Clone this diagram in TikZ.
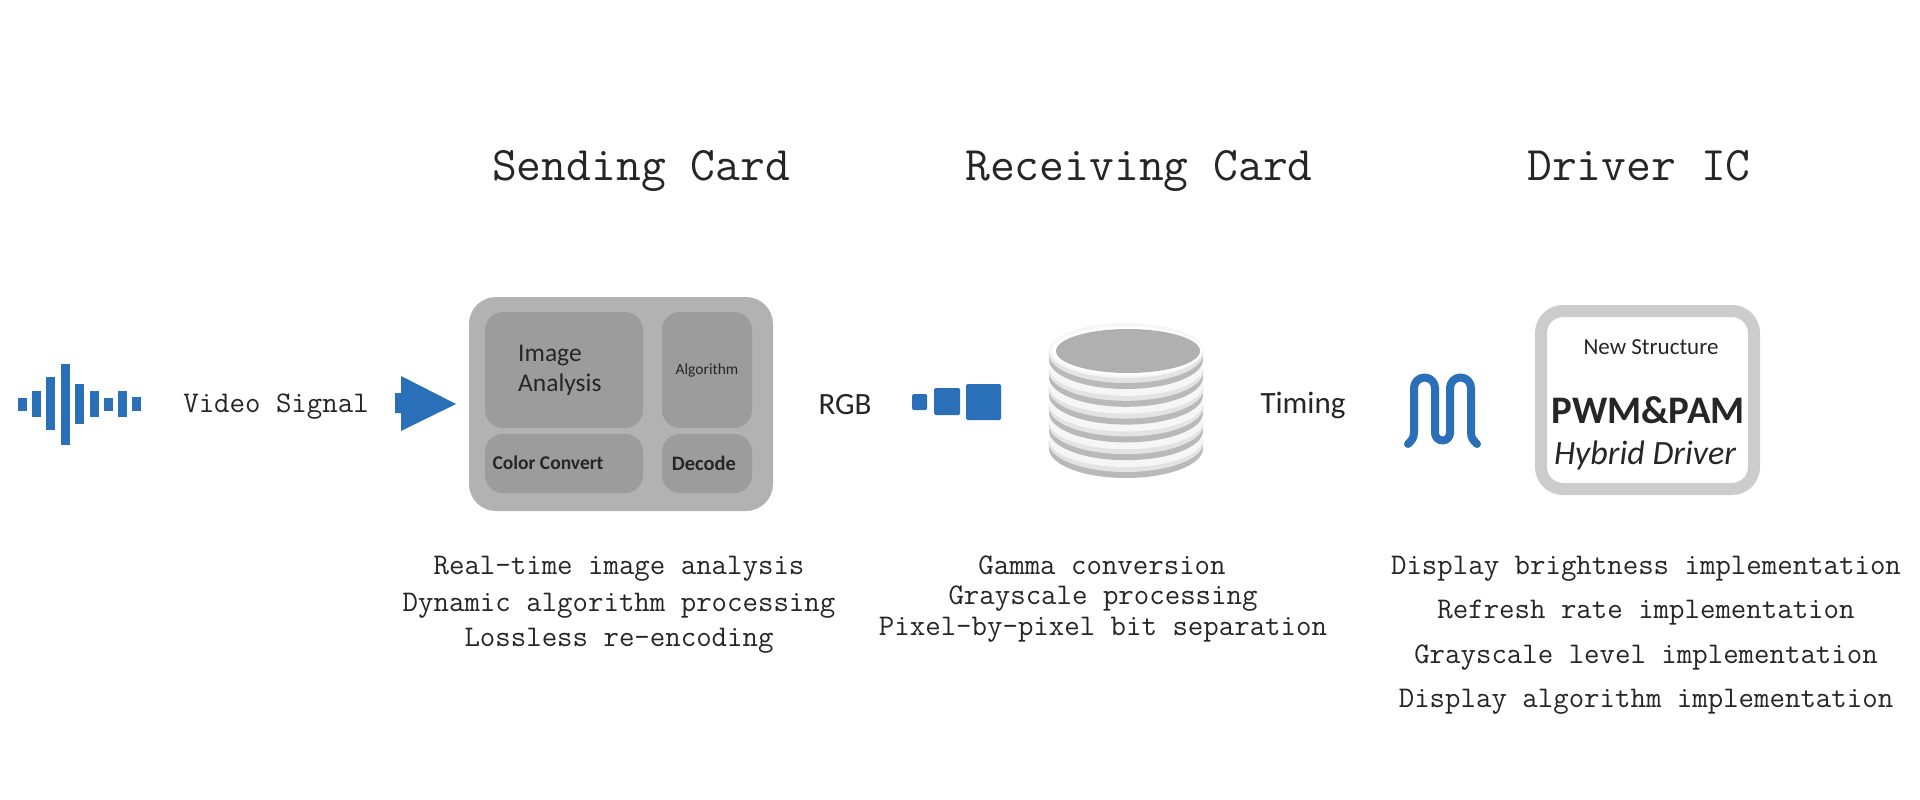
\documentclass[tikz,border=0pt]{standalone}
\usepackage{fontspec}
\setsansfont{Carlito}
\definecolor{bluec}{HTML}{2A70B8}
\definecolor{outerg}{HTML}{B2B2B2}
\definecolor{innerg}{HTML}{9C9C9C}
\definecolor{ringg}{HTML}{CCCCCC}
\definecolor{inkc}{HTML}{262626}
\newcommand{\fs}[1]{\fontsize{#1}{#1}\selectfont}
\tikzset{
  x=1pt,y=-1pt,
  title/.style={font=\ttfamily\fs{48.2},text=inkc,inner sep=0pt,anchor=center,text height=29pt,text depth=0pt},
  body/.style={font=\ttfamily\fs{30},text=inkc,inner sep=0pt,anchor=center,text height=18pt,text depth=0pt},
  lab/.style={text=inkc,inner sep=0pt,anchor=center},
  bluebox/.style={fill=bluec,draw=none,rounded corners=1.5pt},
  cell/.style={fill=innerg,draw=none,rounded corners=18pt},
}
\begin{document}
\begin{tikzpicture}
\useasboundingbox (0,0) rectangle (1920,800);
\fill[white] (0,0) rectangle (1920,800);
% titles
\node[title] (t1) at (641,166) {Sending Card};
\node[title] (t2) at (1139,166) {Receiving Card};
\node[title] (t3) at (1639,166) {Driver IC};
% waveform
\foreach \a/\b/\c/\d in {17.5/398/27/411, 32/391/41/417, 46/377/55/430, 61/364/70/445, 75/384/84/424, 90/391/99/417, 104/398/113/411, 118/391/127/417, 132/397/141/411}
  \fill[bluec] (\a,\b) rectangle (\c,\d);
\node[body] (video) at (276,403) {Video Signal};
% arrow
\fill[bluec] (395,393) -- (401,393) -- (401,376) -- (456,404) -- (401,431) -- (401,413) -- (395,413) -- cycle;
% sending card
\fill[outerg,rounded corners=27pt] (469,297) rectangle (773,511);
\fill[cell] (485,312) rectangle (643,428);
\fill[cell] (662,312) rectangle (752,428);
\fill[cell] (485,434) rectangle (643,493);
\fill[cell] (662,434) rectangle (752,493);
\node[lab,anchor=base west,font=\sffamily\fs{25.5}] (img) at (518,361) {Image};
\node[lab,anchor=base west,font=\sffamily\fs{25.5}] (ana) at (518,391) {Analysis};
\node[lab,font=\sffamily\fs{15.5}] (alg) at (707,370) {Algorithm};
\node[lab,font=\sffamily\bfseries\fs{19.5}] (col) at (548,463) {Color Convert};
\node[lab,font=\sffamily\bfseries\fs{20.5}] (dec) at (704,463) {Decode};
\node[lab,font=\sffamily\fs{31}] (rgb) at (845,405) {RGB};
% squares
\fill[bluebox] (912,394) rectangle (927,410);
\fill[bluebox] (934,388) rectangle (960,415);
\fill[bluebox] (966,384) rectangle (1001,420);
% stack
\foreach \cy in {442.5,424.7,406.9,389.1,371.3,353.5}{
  \fill[gray!55] (1126,\cy+6) ellipse[x radius=77,y radius=29.5];
  \fill[gray!22] (1126,\cy) ellipse[x radius=77.5,y radius=29.5];
  \fill[gray!7] (1126,\cy-3) ellipse[x radius=77,y radius=27.5];
}
\fill[white] (1127,351) ellipse[x radius=75,y radius=24.5];
\fill[gray!62] (1128,351) ellipse[x radius=72,y radius=22];
\node[lab,font=\sffamily\fs{31}] (timing) at (1303,405) {Timing};
% squiggle
\draw[bluec,line width=8pt,line cap=round,line join=round]
  (1408,444) .. controls (1412,440) and (1414,438) .. (1414,432)
  -- (1414,388) arc[start angle=180,end angle=360,x radius=10.5,y radius=10.5]
  -- (1435,433) arc[start angle=180,end angle=360,x radius=7.5,y radius=-7.5]
  -- (1450,388) arc[start angle=180,end angle=360,x radius=10.5,y radius=10.5]
  -- (1471,432) .. controls (1471,438) and (1473,440) .. (1477,444);
% driver box
\draw[ringg,line width=12pt,rounded corners=22pt,fill=white] (1541,311) rectangle (1754,489);
\node[lab,font=\sffamily\fs{23}] (ns) at (1651,347) {New Structure};
\node[lab,font=\sffamily\bfseries\fs{39}] (pwm) at (1648,410) {PWM\&PAM};
\node[lab,font=\sffamily\itshape\fs{34}] (hyb) at (1645,455) {Hybrid Driver};
% body text
\node[body] (a1) at (619,565) {Real-time image analysis};
\node[body] (a2) at (619,602) {Dynamic algorithm processing};
\node[body] (a3) at (619,637) {Lossless re-encoding};
\node[body] (b1) at (1102,565) {Gamma conversion};
\node[body] (b2) at (1103,595) {Grayscale processing};
\node[body] (b3) at (1103,626) {Pixel-by-pixel bit separation};
\node[body] (c1) at (1646,565) {Display brightness implementation};
\node[body] (c2) at (1646,609) {Refresh rate implementation};
\node[body] (c3) at (1646,654) {Grayscale level implementation};
\node[body] (c4) at (1646,698) {Display algorithm implementation};
\end{tikzpicture}
\end{document}
